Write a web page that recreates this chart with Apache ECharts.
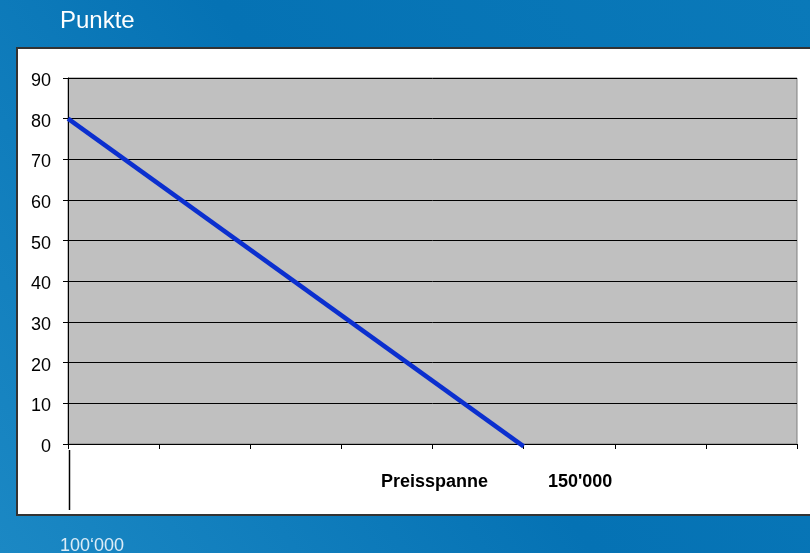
<!DOCTYPE html>
<html>
<head>
<meta charset="utf-8">
<script src="https://cdn.jsdelivr.net/npm/echarts@6/dist/echarts.min.js"></script>
<style>
  html, body { margin: 0; padding: 0; }
  #main { width: 810px; height: 553px; }
</style>
</head>
<body>
<div id="main"></div>
<script>
// Preis (x) und Punkte (y)
var prices = [100000, 150000];
var points = [80, -0.6];
var yTicks = [0, 10, 20, 30, 40, 50, 60, 70, 80, 90];
var xMin = 100000, xMax = 180000, xStep = 10000;

var chart = echarts.init(document.getElementById('main'));

var option = {
    backgroundColor: new echarts.graphic.LinearGradient(1, 0, 0, 1, [
        {offset: 0, color: '#0a79b9'},
        {offset: 0.5, color: '#0572b4'},
        {offset: 1, color: '#1b88c4'}
    ]),
    animation: false,
    grid: {
        left: 68, top: 78, right: 13, bottom: 109,
        show: true,
        backgroundColor: '#c0c0c0',
        borderColor: '#7f7f7f',
        borderWidth: 1
    },
    xAxis: {
        type: 'value',
        min: xMin,
        max: xMax,
        interval: xStep,
        axisLine: {show: true, lineStyle: {color: '#000', width: 1}},
        axisTick: {show: true, length: 5, lineStyle: {color: '#000'}},
        axisLabel: {show: false},
        splitLine: {show: false}
    },
    yAxis: {
        type: 'value',
        min: yTicks[0],
        max: yTicks[yTicks.length - 1],
        interval: 10,
        axisLine: {show: true, lineStyle: {color: '#000', width: 1}},
        axisTick: {show: true, length: 5, lineStyle: {color: '#000'}},
        axisLabel: {
            margin: 17,
            color: '#000',
            fontSize: 18,
            verticalAlign: 'top',
            lineHeight: 6,
            fontFamily: 'Liberation Sans, Arial, sans-serif'
        },
        splitLine: {show: true, lineStyle: {color: '#000', width: 1}}
    },
    series: [{
        type: 'line',
        data: prices.map(function (p, i) { return [p, points[i]]; }),
        symbol: 'none',
        clip: false,
        lineStyle: {color: '#0b2fcf', width: 4.5},
        z: 3
    }],
    graphic: [
        {
            type: 'rect',
            z: -10,
            shape: {x: 17, y: 48, width: 800, height: 467},
            style: {fill: '#fff', stroke: '#333', lineWidth: 2}
        },
        {
            type: 'text',
            left: 60, top: 9,
            style: {
                text: 'Punkte', fill: '#fff', fontSize: 24,
                fontFamily: 'Liberation Sans, Arial, sans-serif'
            }
        },
        {
            type: 'text',
            x: 381, y: 482,
            style: {
                text: 'Preisspanne', fill: '#000', fontSize: 18, fontWeight: 'bold',
                verticalAlign: 'middle',
                fontFamily: 'Liberation Sans, Arial, sans-serif'
            }
        },
        {
            type: 'text',
            x: 548, y: 482,
            style: {
                text: "150'000", fill: '#000', fontSize: 18, fontWeight: 'bold',
                verticalAlign: 'middle',
                fontFamily: 'Liberation Sans, Arial, sans-serif'
            }
        },
        {
            type: 'text',
            x: 60, y: 546,
            style: {
                text: '100‘000', fill: '#dcecf7', fontSize: 18,
                verticalAlign: 'middle',
                fontFamily: 'Liberation Sans, Arial, sans-serif'
            }
        }
    ]
};
chart.setOption(option);

// langer Strich unter dem Startpreis
var p0 = chart.convertToPixel({gridIndex: 0}, [prices[0], 0]);
chart.setOption({
    graphic: option.graphic.concat([{
        type: 'line',
        z: 5,
        shape: {x1: p0[0] + 1.5, y1: p0[1] + 6, x2: p0[0] + 1.5, y2: 510},
        style: {stroke: '#000', lineWidth: 1.5}
    }])
});
</script>
</body>
</html>
